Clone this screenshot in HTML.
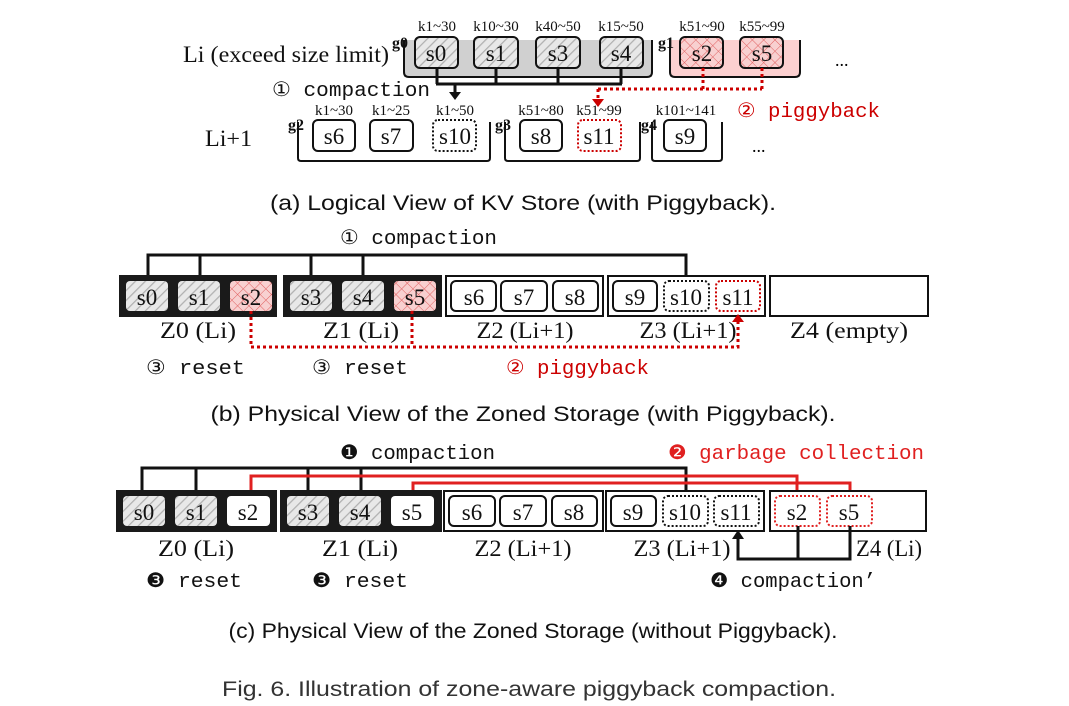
<!DOCTYPE html>
<html><head><meta charset="utf-8"><style>
html,body{margin:0;padding:0;background:#fff;}
svg{display:block;}
.sr{font-family:"Liberation Serif",serif;}
.mo{font-family:"Liberation Mono",monospace;}
.cap{font-family:"Liberation Sans",sans-serif;}
</style></head><body>
<svg width="1069" height="706" viewBox="0 0 1069 706" xmlns="http://www.w3.org/2000/svg">
<defs>
<pattern id="hat" patternUnits="userSpaceOnUse" width="7" height="7" patternTransform="rotate(45)">
<rect width="7" height="7" fill="#e8e8e8"/><line x1="0" y1="0" x2="0" y2="7" stroke="#b0b0b0" stroke-width="2.5"/>
</pattern>
<pattern id="cross" patternUnits="userSpaceOnUse" width="8" height="8" patternTransform="rotate(45)">
<rect width="8" height="8" fill="#f8d0d0"/><line x1="0" y1="0" x2="0" y2="8" stroke="#e06060" stroke-width="1"/><line x1="0" y1="0" x2="8" y2="0" stroke="#e06060" stroke-width="1"/>
</pattern>
</defs>

<!-- (a) -->
<g class="sr" font-size="15" text-anchor="middle" fill="#111">
<text x="437" y="31">k1~30</text><text x="496" y="31">k10~30</text><text x="558" y="31">k40~50</text><text x="621" y="31">k15~50</text>
<text x="702" y="31">k51~90</text><text x="762" y="31">k55~99</text>
<text x="334" y="115">k1~30</text><text x="391" y="115">k1~25</text><text x="455" y="115">k1~50</text>
<text x="541" y="115">k51~80</text><text x="599" y="115">k51~99</text><text x="686" y="115">k101~141</text>
</g>
<text x="183" y="62" class="sr" font-size="23" fill="#111" textLength="206" lengthAdjust="spacingAndGlyphs">Li (exceed size limit)</text>
<text x="205" y="146" class="sr" font-size="23" fill="#111" textLength="47" lengthAdjust="spacingAndGlyphs">Li+1</text>
<path d="M404,40 H652 V77 H404Z" fill="#d0d0d0"/>
<path d="M404,40 V72 Q404,77 409,77 H647 Q652,77 652,72 V40" fill="none" stroke="#111" stroke-width="2"/>
<path d="M670,40 H800 V77 H670Z" fill="#fcd0d0"/>
<path d="M670,40 V72 Q670,77 675,77 H795 Q800,77 800,72 V40" fill="none" stroke="#111" stroke-width="2"/>
<g class="sr" font-size="16" font-weight="bold" fill="#111"><text x="392" y="48">g0</text><text x="658" y="48">g1</text><text x="288" y="130">g2</text><text x="495" y="130">g3</text><text x="641" y="130">g4</text></g>
<g stroke="#111" stroke-width="2">
<rect x="415" y="37" width="43" height="31" rx="5" fill="url(#hat)"/>
<rect x="474" y="37" width="44" height="31" rx="5" fill="url(#hat)"/>
<rect x="536" y="37" width="44" height="31" rx="5" fill="url(#hat)"/>
<rect x="600" y="37" width="43" height="31" rx="5" fill="url(#hat)"/>
<rect x="680" y="37" width="43" height="31" rx="5" fill="url(#cross)"/>
<rect x="740" y="37" width="43" height="31" rx="5" fill="url(#cross)"/>
</g>
<g class="sr" font-size="23" text-anchor="middle" fill="#111">
<text x="436" y="61">s0</text><text x="496" y="61">s1</text><text x="558" y="61">s3</text><text x="621" y="61">s4</text><text x="702" y="61">s2</text><text x="762" y="61">s5</text>
</g>
<text x="835" y="66" class="sr" font-size="18">...</text>
<path d="M437,68 V84 M496,68 V84 M558,68 V84 M621,68 V84 M436,84 H622 M455,84 V94" stroke="#111" stroke-width="3" fill="none"/>
<path d="M449,92 L461,92 L455,100z" fill="#111"/>
<text x="272" y="96" class="mo" font-size="20" fill="#111" textLength="158" lengthAdjust="spacingAndGlyphs">① compaction</text>
<path d="M703,68 V89 M762,68 V89 M598,89 H762 M598,89 V101" stroke="#c00" stroke-width="3" stroke-dasharray="3,3" fill="none"/>
<path d="M592,99 L604,99 L598,107z" fill="#c00"/>
<text x="737" y="117" class="mo" font-size="20" fill="#c00" textLength="143" lengthAdjust="spacingAndGlyphs">② piggyback</text>
<path d="M298,122 V158 Q298,161 301,161 H487 Q490,161 490,158 V122 M505,122 V158 Q505,161 508,161 H637 Q640,161 640,158 V122 M652,122 V158 Q652,161 655,161 H719 Q722,161 722,158 V122" stroke="#111" stroke-width="2" fill="none"/>
<g stroke-width="2" fill="#fff">
<rect x="313" y="120" width="42" height="31" rx="5" stroke="#111"/>
<rect x="370" y="120" width="43" height="31" rx="5" stroke="#111"/>
<rect x="433" y="120" width="43" height="31" rx="5" stroke="#111" stroke-dasharray="2,2"/>
<rect x="520" y="120" width="42" height="31" rx="5" stroke="#111"/>
<rect x="578" y="120" width="43" height="31" rx="5" stroke="#c00" stroke-dasharray="2,2"/>
<rect x="664" y="120" width="42" height="31" rx="5" stroke="#111"/>
</g>
<g class="sr" font-size="23" text-anchor="middle" fill="#111">
<text x="334" y="144">s6</text><text x="391" y="144">s7</text><text x="455" y="144">s10</text><text x="541" y="144">s8</text><text x="599" y="144">s11</text><text x="685" y="144">s9</text>
</g>
<text x="752" y="152" class="sr" font-size="18">...</text>
<text x="523" y="210" class="cap" font-size="21" text-anchor="middle" fill="#111" textLength="506" lengthAdjust="spacingAndGlyphs">(a) Logical View of KV Store (with Piggyback).</text>

<!-- (b) -->
<text x="340" y="244" class="mo" font-size="20" fill="#111" textLength="157" lengthAdjust="spacingAndGlyphs">① compaction</text>
<path d="M148,275 V255 H686 V279 M200,255 V275 M311,255 V275 M363,255 V275" stroke="#111" stroke-width="3" fill="none"/>
<path d="M680,277 L692,277 L686,285z" fill="#111"/>
<rect x="119" y="275" width="158" height="42" fill="#1a1a1a"/>
<rect x="283" y="275" width="159" height="42" fill="#1a1a1a"/>
<rect x="446" y="276" width="157" height="40" fill="#fff" stroke="#111" stroke-width="2"/>
<rect x="608" y="276" width="157" height="40" fill="#fff" stroke="#111" stroke-width="2"/>
<rect x="770" y="276" width="158" height="40" fill="#fff" stroke="#111" stroke-width="2"/>
<g>
<rect x="126" y="281" width="42" height="30" rx="4" fill="url(#hat)"/>
<rect x="178" y="281" width="42" height="30" rx="4" fill="url(#hat)"/>
<rect x="230" y="281" width="42" height="30" rx="4" fill="url(#cross)"/>
<rect x="290" y="281" width="42" height="30" rx="4" fill="url(#hat)"/>
<rect x="342" y="281" width="42" height="30" rx="4" fill="url(#hat)"/>
<rect x="394" y="281" width="42" height="30" rx="4" fill="url(#cross)"/>
<rect x="451" y="281" width="45" height="30" rx="5" fill="#fff" stroke="#111" stroke-width="2"/>
<rect x="501" y="281" width="46" height="30" rx="5" fill="#fff" stroke="#111" stroke-width="2"/>
<rect x="553" y="281" width="45" height="30" rx="5" fill="#fff" stroke="#111" stroke-width="2"/>
<rect x="613" y="281" width="44" height="30" rx="5" fill="#fff" stroke="#111" stroke-width="2"/>
<rect x="664" y="281" width="45" height="30" rx="5" fill="#fff" stroke="#111" stroke-width="2" stroke-dasharray="2,2"/>
<rect x="716" y="281" width="44" height="30" rx="5" fill="#fff" stroke="#c00" stroke-width="2" stroke-dasharray="2,2"/>
</g>
<g class="sr" font-size="23" text-anchor="middle" fill="#111">
<text x="147" y="305">s0</text><text x="199" y="305">s1</text><text x="251" y="305">s2</text><text x="311" y="305">s3</text><text x="363" y="305">s4</text><text x="415" y="305">s5</text>
<text x="474" y="305">s6</text><text x="524" y="305">s7</text><text x="575" y="305">s8</text><text x="635" y="305">s9</text><text x="686" y="305">s10</text><text x="738" y="305">s11</text>
</g>
<path d="M251,311 V347 H738 V320 M412,311 V347" stroke="#c00" stroke-width="3" stroke-dasharray="3,3" fill="none"/>
<path d="M732,322 L744,322 L738,314z" fill="#c00"/>
<g class="sr" font-size="23" text-anchor="middle" fill="#111" lengthAdjust="spacingAndGlyphs">
<text x="198" y="338" textLength="76" lengthAdjust="spacingAndGlyphs">Z0 (Li)</text><text x="361" y="338" textLength="76" lengthAdjust="spacingAndGlyphs">Z1 (Li)</text><text x="525" y="338" textLength="97" lengthAdjust="spacingAndGlyphs">Z2 (Li+1)</text><text x="688" y="338" textLength="97" lengthAdjust="spacingAndGlyphs">Z3 (Li+1)</text><text x="849" y="338" textLength="118" lengthAdjust="spacingAndGlyphs">Z4 (empty)</text>
</g>
<text x="146" y="374" class="mo" font-size="20" fill="#111" textLength="99" lengthAdjust="spacingAndGlyphs">③ reset</text>
<text x="312" y="374" class="mo" font-size="20" fill="#111" textLength="96" lengthAdjust="spacingAndGlyphs">③ reset</text>
<text x="506" y="374" class="mo" font-size="20" fill="#c00" textLength="143" lengthAdjust="spacingAndGlyphs">② piggyback</text>
<text x="523" y="421" class="cap" font-size="21" text-anchor="middle" fill="#111" textLength="625" lengthAdjust="spacingAndGlyphs">(b) Physical View of the Zoned Storage (with Piggyback).</text>

<!-- (c) -->
<text x="340" y="459" class="mo" font-size="20" fill="#111" textLength="155" lengthAdjust="spacingAndGlyphs">❶ compaction</text>
<text x="668" y="459" class="mo" font-size="20" fill="#e02020" textLength="256" lengthAdjust="spacingAndGlyphs">❷ garbage collection</text>
<path d="M142,490 V468 H686 V494 M196,468 V490 M308,468 V490 M361,468 V490" stroke="#111" stroke-width="3" fill="none"/>
<path d="M680,492 L692,492 L686,500z" fill="#111"/>
<path d="M251,497 V476 H797 V492 M413,497 V483 H850 V492" stroke="#e02020" stroke-width="3" fill="none"/>
<path d="M791,490 L803,490 L797,498z M844,490 L856,490 L850,498z" fill="#e02020"/>
<rect x="116" y="490" width="161" height="42" fill="#1a1a1a"/>
<rect x="280" y="490" width="162" height="42" fill="#1a1a1a"/>
<rect x="444" y="491" width="159" height="40" fill="#fff" stroke="#111" stroke-width="2"/>
<rect x="606" y="491" width="158" height="40" fill="#fff" stroke="#111" stroke-width="2"/>
<rect x="770" y="491" width="156" height="40" fill="#fff" stroke="#111" stroke-width="2"/>
<g>
<rect x="123" y="496" width="42" height="30" rx="4" fill="url(#hat)"/>
<rect x="175" y="496" width="42" height="30" rx="4" fill="url(#hat)"/>
<rect x="227" y="496" width="43" height="30" rx="4" fill="#fff"/>
<rect x="287" y="496" width="42" height="30" rx="4" fill="url(#hat)"/>
<rect x="339" y="496" width="42" height="30" rx="4" fill="url(#hat)"/>
<rect x="391" y="496" width="43" height="30" rx="4" fill="#fff"/>
<rect x="449" y="496" width="46" height="30" rx="5" fill="#fff" stroke="#111" stroke-width="2"/>
<rect x="500" y="496" width="46" height="30" rx="5" fill="#fff" stroke="#111" stroke-width="2"/>
<rect x="552" y="496" width="45" height="30" rx="5" fill="#fff" stroke="#111" stroke-width="2"/>
<rect x="611" y="496" width="45" height="30" rx="5" fill="#fff" stroke="#111" stroke-width="2"/>
<rect x="663" y="496" width="45" height="30" rx="5" fill="#fff" stroke="#111" stroke-width="2" stroke-dasharray="2,2"/>
<rect x="714" y="496" width="45" height="30" rx="5" fill="#fff" stroke="#111" stroke-width="2" stroke-dasharray="2,2"/>
<rect x="775" y="496" width="45" height="30" rx="5" fill="#fff" stroke="#e02020" stroke-width="2" stroke-dasharray="2,2"/>
<rect x="827" y="496" width="45" height="30" rx="5" fill="#fff" stroke="#e02020" stroke-width="2" stroke-dasharray="2,2"/>
</g>
<g class="sr" font-size="23" text-anchor="middle" fill="#111">
<text x="144" y="520">s0</text><text x="196" y="520">s1</text><text x="248" y="520">s2</text><text x="308" y="520">s3</text><text x="360" y="520">s4</text><text x="412" y="520">s5</text>
<text x="472" y="520">s6</text><text x="523" y="520">s7</text><text x="574" y="520">s8</text><text x="633" y="520">s9</text><text x="685" y="520">s10</text><text x="736" y="520">s11</text><text x="797" y="520">s2</text><text x="849" y="520">s5</text>
</g>
<path d="M798,526 V559 M850,526 V559 H738 V537" stroke="#111" stroke-width="3" fill="none"/>
<path d="M732,539 L744,539 L738,530z" fill="#111"/>
<g class="sr" font-size="23" text-anchor="middle" fill="#111">
<text x="196" y="556" textLength="76" lengthAdjust="spacingAndGlyphs">Z0 (Li)</text><text x="360" y="556" textLength="76" lengthAdjust="spacingAndGlyphs">Z1 (Li)</text><text x="523" y="556" textLength="97" lengthAdjust="spacingAndGlyphs">Z2 (Li+1)</text><text x="682" y="556" textLength="97" lengthAdjust="spacingAndGlyphs">Z3 (Li+1)</text><text x="889" y="556" textLength="66" lengthAdjust="spacingAndGlyphs">Z4 (Li)</text>
</g>
<text x="146" y="587" class="mo" font-size="20" fill="#111" textLength="96" lengthAdjust="spacingAndGlyphs">❸ reset</text>
<text x="312" y="587" class="mo" font-size="20" fill="#111" textLength="96" lengthAdjust="spacingAndGlyphs">❸ reset</text>
<text x="710" y="587" class="mo" font-size="20" fill="#111" textLength="166" lengthAdjust="spacingAndGlyphs">❹ compaction’</text>
<text x="533" y="638" class="cap" font-size="21" text-anchor="middle" fill="#111" textLength="609" lengthAdjust="spacingAndGlyphs">(c) Physical View of the Zoned Storage (without Piggyback).</text>
<text x="529" y="696" class="cap" font-size="21" text-anchor="middle" fill="#333" textLength="614" lengthAdjust="spacingAndGlyphs">Fig. 6.  Illustration of zone-aware piggyback compaction.</text>
</svg>
</body></html>
